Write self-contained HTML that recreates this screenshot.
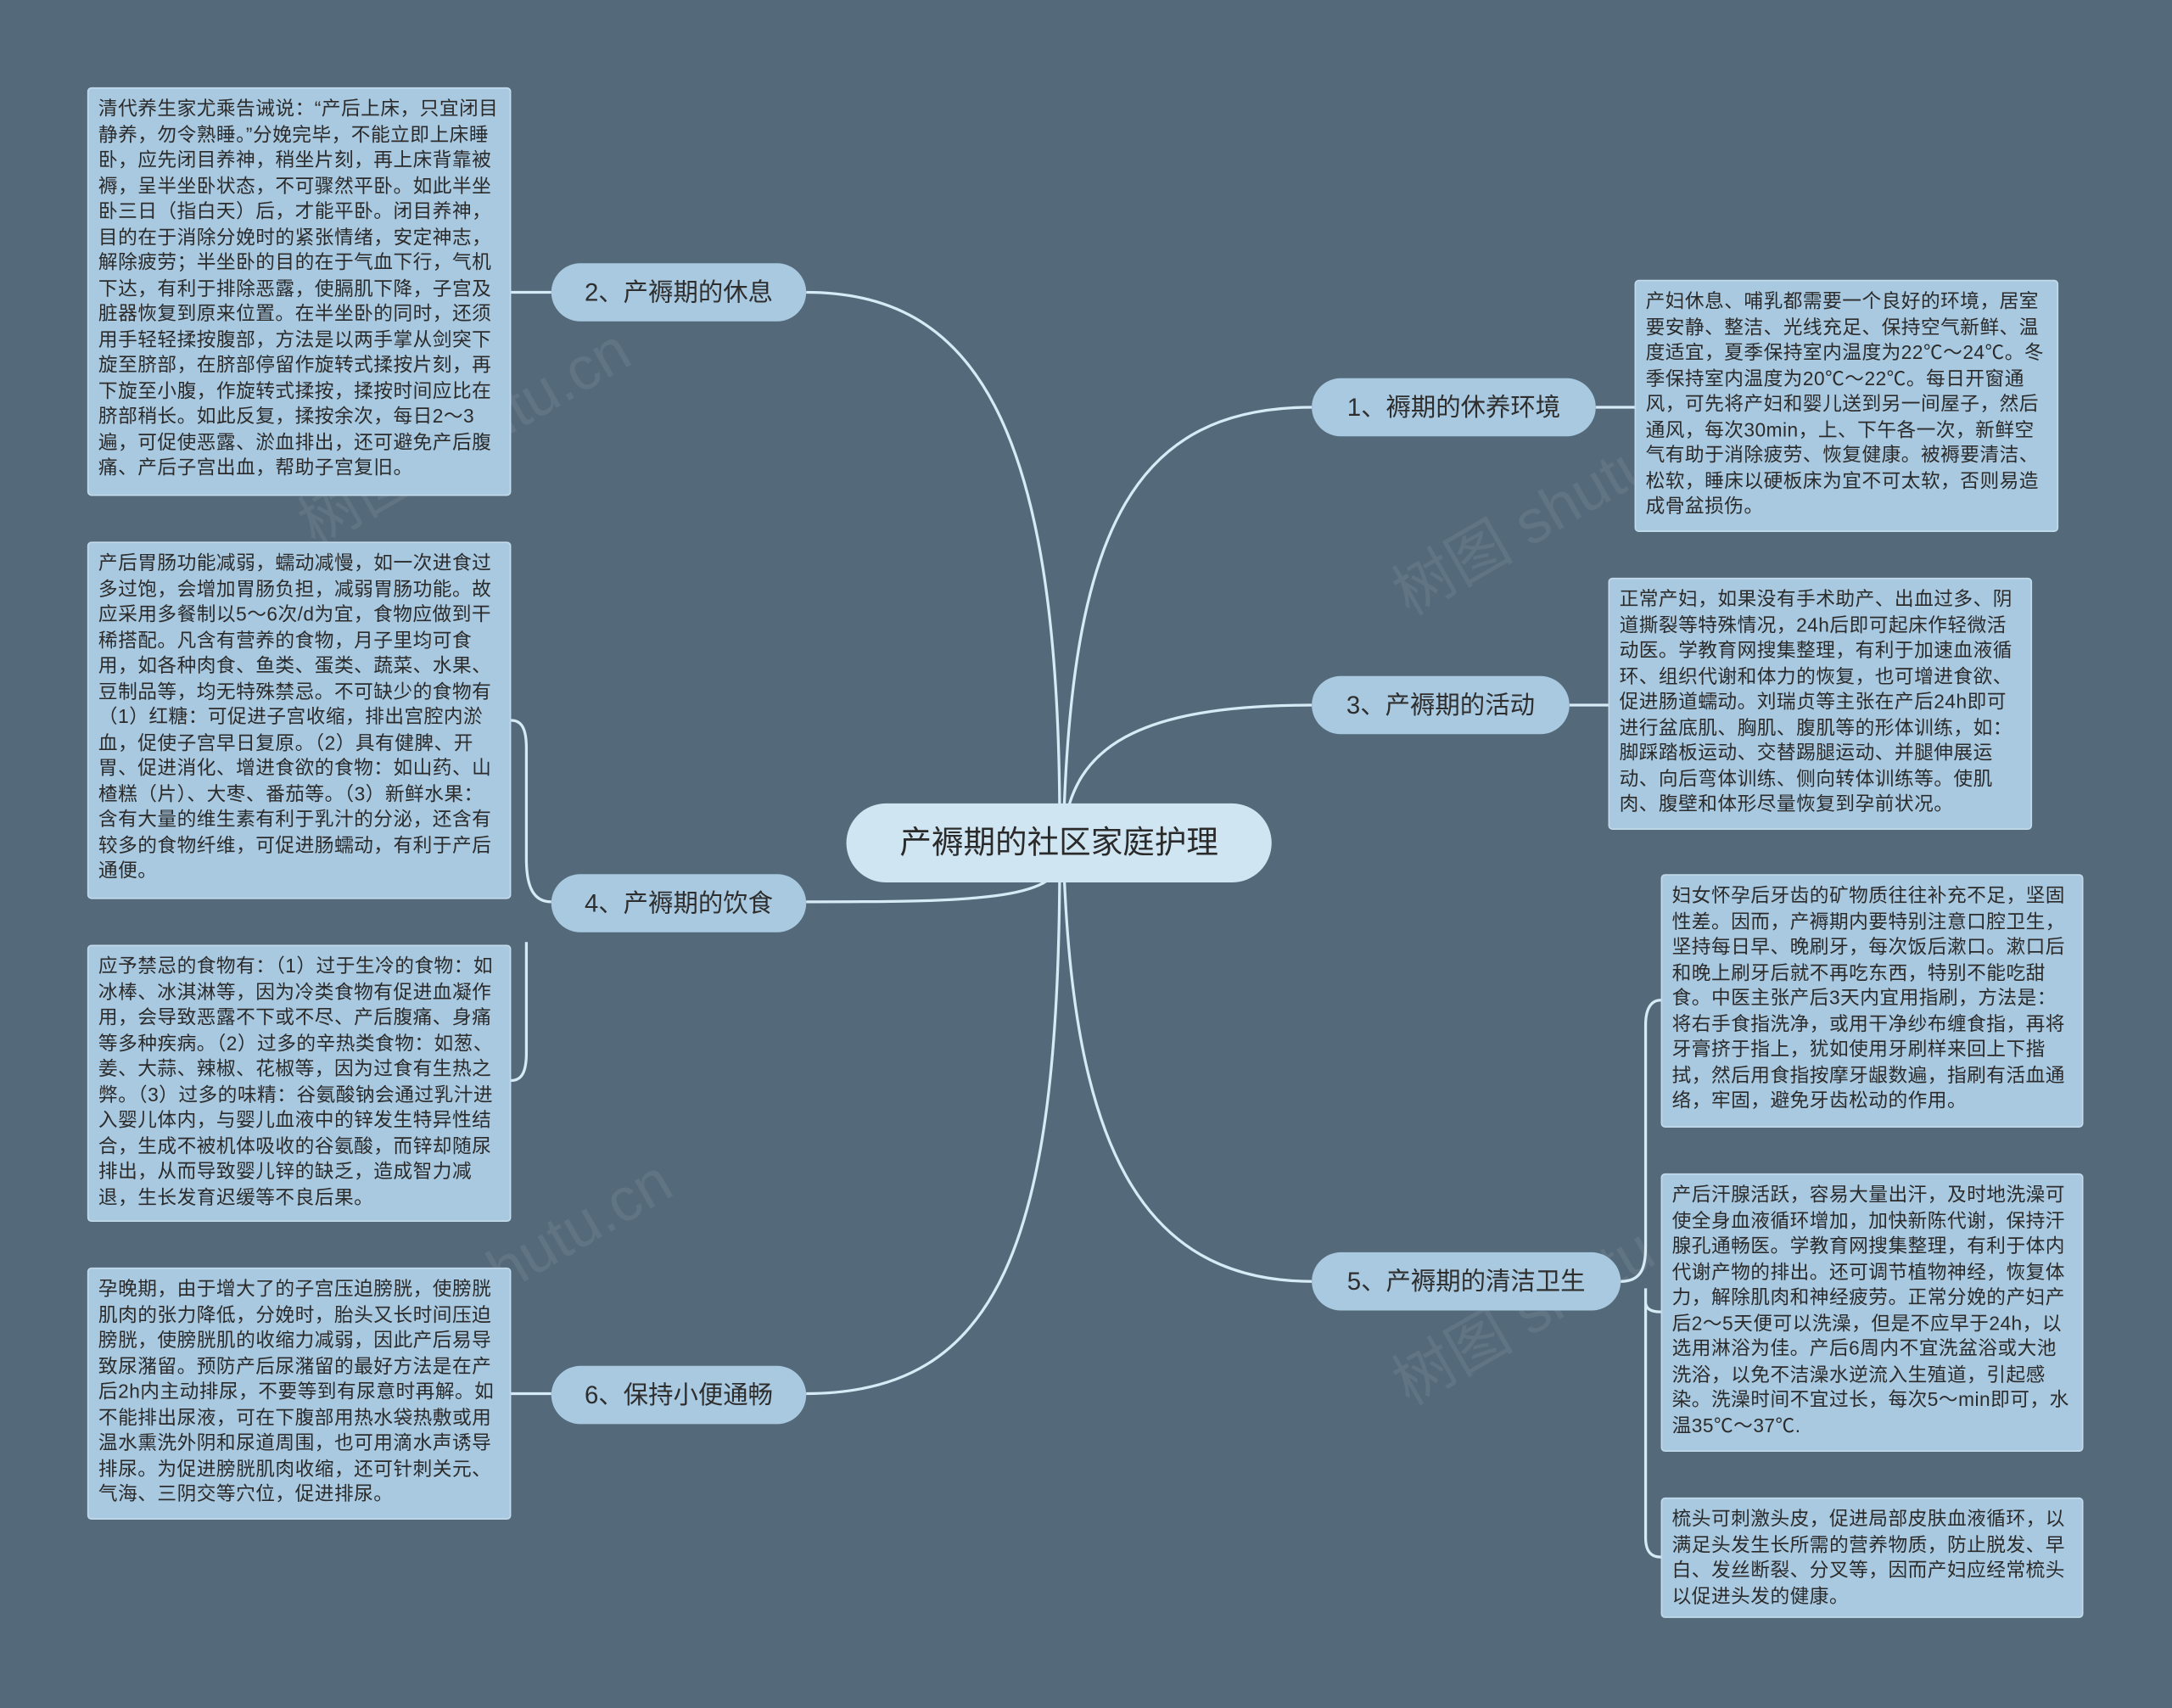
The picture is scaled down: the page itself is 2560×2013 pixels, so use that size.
<!DOCTYPE html>
<html><head><meta charset="utf-8"><style>
html,body{margin:0;padding:0;background:#546a7a;width:2560px;height:2013px;overflow:hidden}
#s{position:absolute;left:0;top:0;width:1568px;height:1233px;transform:scale(1.63265);transform-origin:0 0;font-family:"Liberation Sans","Noto Sans CJK SC",sans-serif}
.leaf{position:absolute;background:#a9c9e0;border:1px solid #c3dbeb;border-radius:3px;box-sizing:border-box;padding:5px 6px 5px 7px;font-size:13.9px;letter-spacing:0.3px;line-height:18.5px;color:#2b2b2b;word-break:break-all}
.br{position:absolute;background:#a9c9e0;border-radius:21px;box-sizing:border-box;height:42px;line-height:42px;text-align:center;font-size:18px;color:#2e2e2e}
.c{position:absolute;left:611px;top:580px;width:307px;height:57px;border-radius:29px;background:#cfe5f2;text-align:center;line-height:57px;font-size:23px;color:#2a2a2a}
.wm{position:absolute;font-size:44px;color:rgba(255,255,255,0.07);transform:rotate(-30deg);white-space:nowrap}
</style></head><body><div id="s">
<svg width="1568" height="1233" style="position:absolute;left:0;top:0" fill="none" stroke="#d6ebf6" stroke-width="2">
<path d="M765,595 C765,300 700,211 582,211"/>
<path d="M765,620 C765,650 700,651 582,651"/>
<path d="M765,620 C765,900 720,1006 582,1006"/>
<path d="M768,590 C775,380 820,294 947,294"/>
<path d="M768,600 C775,540 820,509 947,509"/>
<path d="M768,625 C775,820 820,925 947,925"/>
<path d="M398,211 L369,211"/>
<path d="M398,651 C385,651 380,640 380,620 L380,540 C380,525 376,520 369,520 M380,680 L380,760 C380,775 376,780 369,780"/>
<path d="M398,1006 L369,1006"/>
<path d="M1152,294 L1180,294"/>
<path d="M1133,509 L1161,509"/>
<path d="M1170,925 C1185,925 1188,915 1188,900 L1188,740 C1188,728 1192,722 1199,722 M1188,930 L1188,940 C1188,945 1192,947 1199,947 M1188,940 L1188,1110 C1188,1120 1192,1124 1199,1124"/>
</svg>
<div class="wm" style="left:200px;top:280px">树图 shutu.cn</div>
<div class="wm" style="left:230px;top:880px">树图 shutu.cn</div>
<div class="wm" style="left:990px;top:330px">树图 shutu.cn</div>
<div class="wm" style="left:990px;top:900px">树图 shutu.cn</div>
<div class="c">产褥期的社区家庭护理</div>
<div class="br" style="left:398px;top:190px;width:184px">2、产褥期的休息</div>
<div class="br" style="left:398px;top:631px;width:184px">4、产褥期的饮食</div>
<div class="br" style="left:398px;top:986px;width:184px">6、保持小便通畅</div>
<div class="br" style="left:947px;top:273px;width:205px">1、褥期的休养环境</div>
<div class="br" style="left:947px;top:488px;width:186px">3、产褥期的活动</div>
<div class="br" style="left:947px;top:904px;width:223px">5、产褥期的清洁卫生</div>
<div class="leaf" style="left:63px;top:63px;width:306px;height:295px">清代养生家尤乘告诫说：“产后上床，只宜闭目静养，勿令熟睡。”分娩完毕，不能立即上床睡卧，应先闭目养神，稍坐片刻，再上床背靠被褥，呈半坐卧状态，不可骤然平卧。如此半坐卧三日（指白天）后，才能平卧。闭目养神，目的在于消除分娩时的紧张情绪，安定神志，解除疲劳；半坐卧的目的在于气血下行，气机下达，有利于排除恶露，使膈肌下降，子宫及脏器恢复到原来位置。在半坐卧的同时，还须用手轻轻揉按腹部，方法是以两手掌从剑突下旋至脐部，在脐部停留作旋转式揉按片刻，再下旋至小腹，作旋转式揉按，揉按时间应比在脐部稍长。如此反复，揉按余次，每日2～3遍，可促使恶露、淤血排出，还可避免产后腹痛、产后子宫出血，帮助子宫复旧。</div>
<div class="leaf" style="left:63px;top:391px;width:306px;height:258px">产后胃肠功能减弱，蠕动减慢，如一次进食过多过饱，会增加胃肠负担，减弱胃肠功能。故应采用多餐制以5～6次/d为宜，食物应做到干稀搭配。凡含有营养的食物，月子里均可食用，如各种肉食、鱼类、蛋类、蔬菜、水果、豆制品等，均无特殊禁忌。不可缺少的食物有（1）红糖：可促进子宫收缩，排出宫腔内淤血，促使子宫早日复原。（2）具有健脾、开胃、促进消化、增进食欲的食物：如山药、山楂糕（片）、大枣、番茄等。（3）新鲜水果：含有大量的维生素有利于乳汁的分泌，还含有较多的食物纤维，可促进肠蠕动，有利于产后通便。</div>
<div class="leaf" style="left:63px;top:682px;width:306px;height:200px">应予禁忌的食物有：（1）过于生冷的食物：如冰棒、冰淇淋等，因为冷类食物有促进血凝作用，会导致恶露不下或不尽、产后腹痛、身痛等多种疾病。（2）过多的辛热类食物：如葱、姜、大蒜、辣椒、花椒等，因为过食有生热之弊。（3）过多的味精：谷氨酸钠会通过乳汁进入婴儿体内，与婴儿血液中的锌发生特异性结合，生成不被机体吸收的谷氨酸，而锌却随尿排出，从而导致婴儿锌的缺乏，造成智力减退，生长发育迟缓等不良后果。</div>
<div class="leaf" style="left:63px;top:915px;width:306px;height:182px">孕晚期，由于增大了的子宫压迫膀胱，使膀胱肌肉的张力降低，分娩时，胎头又长时间压迫膀胱，使膀胱肌的收缩力减弱，因此产后易导致尿潴留。预防产后尿潴留的最好方法是在产后2h内主动排尿，不要等到有尿意时再解。如不能排出尿液，可在下腹部用热水袋热敷或用温水熏洗外阴和尿道周围，也可用滴水声诱导排尿。为促进膀胱肌肉收缩，还可针刺关元、气海、三阴交等穴位，促进排尿。</div>
<div class="leaf" style="left:1180px;top:202px;width:306px;height:182px">产妇休息、哺乳都需要一个良好的环境，居室要安静、整洁、光线充足、保持空气新鲜、温度适宜，夏季保持室内温度为22℃～24℃。冬季保持室内温度为20℃～22℃。每日开窗通风，可先将产妇和婴儿送到另一间屋子，然后通风，每次30min，上、下午各一次，新鲜空气有助于消除疲劳、恢复健康。被褥要清洁、松软，睡床以硬板床为宜不可太软，否则易造成骨盆损伤。</div>
<div class="leaf" style="left:1161px;top:417px;width:306px;height:182px">正常产妇，如果没有手术助产、出血过多、阴道撕裂等特殊情况，24h后即可起床作轻微活动医。学教育网搜集整理，有利于加速血液循环、组织代谢和体力的恢复，也可增进食欲、促进肠道蠕动。刘瑞贞等主张在产后24h即可进行盆底肌、胸肌、腹肌等的形体训练，如：脚踩踏板运动、交替踢腿运动、并腿伸展运动、向后弯体训练、侧向转体训练等。使肌肉、腹壁和体形尽量恢复到孕前状况。</div>
<div class="leaf" style="left:1199px;top:631px;width:305px;height:183px">妇女怀孕后牙齿的矿物质往往补充不足，坚固性差。因而，产褥期内要特别注意口腔卫生，坚持每日早、晚刷牙，每次饭后漱口。漱口后和晚上刷牙后就不再吃东西，特别不能吃甜食。中医主张产后3天内宜用指刷，方法是：将右手食指洗净，或用干净纱布缠食指，再将牙膏挤于指上，犹如使用牙刷样来回上下揩拭，然后用食指按摩牙龈数遍，指刷有活血通络，牢固，避免牙齿松动的作用。</div>
<div class="leaf" style="left:1199px;top:847px;width:305px;height:201px">产后汗腺活跃，容易大量出汗，及时地洗澡可使全身血液循环增加，加快新陈代谢，保持汗腺孔通畅医。学教育网搜集整理，有利于体内代谢产物的排出。还可调节植物神经，恢复体力，解除肌肉和神经疲劳。正常分娩的产妇产后2～5天便可以洗澡，但是不应早于24h，以选用淋浴为佳。产后6周内不宜洗盆浴或大池洗浴，以免不洁澡水逆流入生殖道，引起感染。洗澡时间不宜过长，每次5～min即可，水温35℃～37℃.</div>
<div class="leaf" style="left:1199px;top:1081px;width:305px;height:87px">梳头可刺激头皮，促进局部皮肤血液循环，以满足头发生长所需的营养物质，防止脱发、早白、发丝断裂、分叉等，因而产妇应经常梳头以促进头发的健康。</div>
</div></body></html>
